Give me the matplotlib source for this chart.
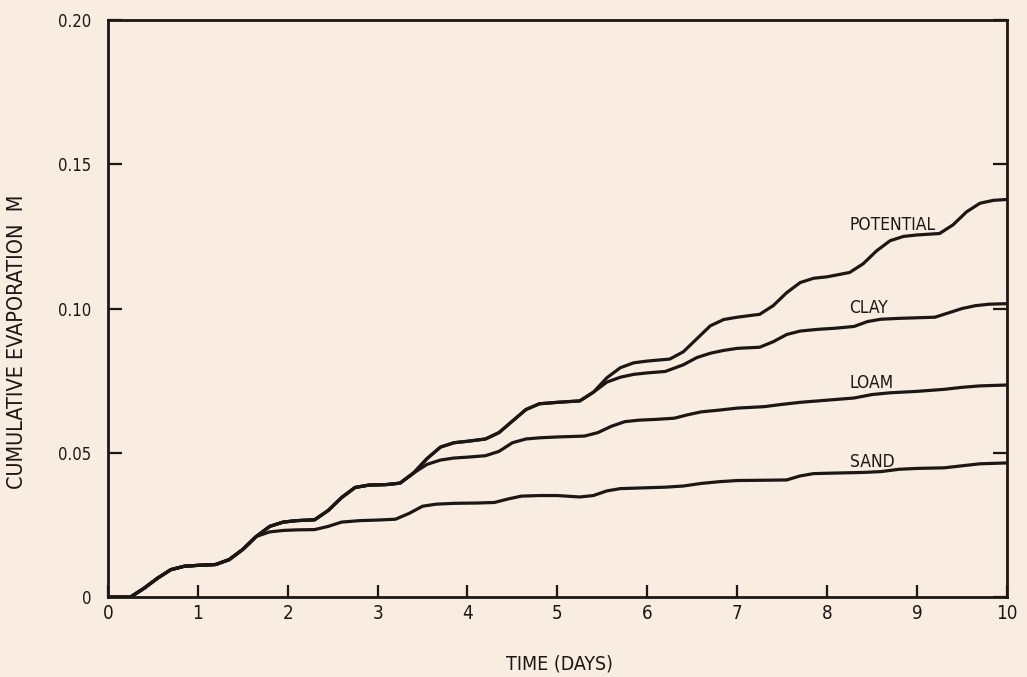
import matplotlib
matplotlib.use('Agg')
import matplotlib.pyplot as plt

# Stage-1 evaporation: all soils follow the potential curve until they split off
common_x = [0, 0.25, 0.4, 0.55, 0.7, 0.85, 1.0, 1.2, 1.35, 1.5, 1.65]
common_y = [0, 0, 0.003, 0.0065, 0.0095, 0.0107, 0.011, 0.0113, 0.013, 0.0165, 0.021]

# Potential (rest of the curve after x=1.65)
pot_x = [1.8, 1.95, 2.1, 2.3, 2.45, 2.6, 2.75, 2.9, 3.1, 3.25, 3.4, 3.55, 3.7, 3.85,
         4.0, 4.2, 4.35, 4.5, 4.65, 4.8, 5.0, 5.25, 5.4, 5.55, 5.7, 5.85, 6.0, 6.25,
         6.4, 6.55, 6.7, 6.85, 7.0, 7.25, 7.4, 7.55, 7.7, 7.85, 8.0, 8.25, 8.4, 8.55,
         8.7, 8.85, 9.0, 9.25, 9.4, 9.55, 9.7, 9.85, 10.0]
pot_y = [0.0245, 0.026, 0.0265, 0.0268, 0.030, 0.0345, 0.038, 0.0388, 0.039, 0.0395,
         0.043, 0.048, 0.052, 0.0535, 0.054, 0.0548, 0.057, 0.061, 0.065, 0.067, 0.0675,
         0.068, 0.071, 0.076, 0.0795, 0.0812, 0.0818, 0.0825, 0.085, 0.0895, 0.094,
         0.0962, 0.097, 0.098, 0.101, 0.1055, 0.109, 0.1105, 0.111, 0.1125, 0.1155,
         0.120, 0.1235, 0.125, 0.1255, 0.126, 0.129, 0.1335, 0.1365, 0.1375, 0.1378]

# Clay leaves the potential curve at x=5.4
clay_x = [5.55, 5.7, 5.85, 6.0, 6.2, 6.4, 6.55, 6.7, 6.85, 7.0, 7.25, 7.4, 7.55, 7.7,
          7.9, 8.1, 8.3, 8.45, 8.6, 8.8, 9.0, 9.2, 9.35, 9.5, 9.65, 9.8, 10.0]
clay_y = [0.0745, 0.0762, 0.0772, 0.0777, 0.0782, 0.0805, 0.083, 0.0845, 0.0855, 0.0862,
          0.0866, 0.0885, 0.091, 0.0922, 0.0928, 0.0932, 0.0938, 0.0955, 0.0963, 0.0966,
          0.0968, 0.097, 0.0985, 0.100, 0.101, 0.1015, 0.1017]

# Loam leaves the potential curve at x=3.4
loam_x = [3.55, 3.7, 3.85, 4.0, 4.2, 4.35, 4.5, 4.65, 4.8, 5.0, 5.3, 5.45, 5.6, 5.75,
          5.9, 6.1, 6.3, 6.45, 6.6, 6.8, 7.0, 7.3, 7.5, 7.7, 7.9, 8.1, 8.3, 8.5, 8.7,
          9.0, 9.3, 9.5, 9.7, 10.0]
loam_y = [0.046, 0.0475, 0.0482, 0.0485, 0.049, 0.0505, 0.0535, 0.0548, 0.0552, 0.0555,
          0.0558, 0.057, 0.0592, 0.0608, 0.0613, 0.0616, 0.062, 0.0632, 0.0642, 0.0648,
          0.0655, 0.066, 0.0668, 0.0675, 0.068, 0.0685, 0.069, 0.0702, 0.0708, 0.0713,
          0.072, 0.0727, 0.0732, 0.0735]

# Sand leaves the potential curve at x=1.65
sand_x = [1.8, 1.95, 2.1, 2.3, 2.45, 2.6, 2.8, 3.0, 3.2, 3.35, 3.5, 3.65, 3.85, 4.1,
          4.3, 4.45, 4.6, 4.8, 5.0, 5.25, 5.4, 5.55, 5.7, 5.9, 6.2, 6.4, 6.6, 6.8, 7.0,
          7.3, 7.55, 7.7, 7.85, 8.1, 8.4, 8.6, 8.8, 9.0, 9.3, 9.5, 9.7, 10.0]
sand_y = [0.0226, 0.0231, 0.0233, 0.0234, 0.0245, 0.026, 0.0265, 0.0267, 0.027, 0.029,
          0.0315, 0.0322, 0.0325, 0.0326, 0.0328, 0.034, 0.035, 0.0352, 0.0352, 0.0347,
          0.0352, 0.0368, 0.0376, 0.0378, 0.0381, 0.0385, 0.0394, 0.040, 0.0404, 0.0405,
          0.0406, 0.042, 0.0428, 0.043, 0.0432, 0.0435, 0.0443, 0.0446, 0.0448, 0.0455,
          0.0462, 0.0465]

labels = ['POTENTIAL', 'CLAY', 'LOAM', 'SAND']
label_y = [0.129, 0.1003, 0.0743, 0.0469]

x_ticks = [0, 1, 2, 3, 4, 5, 6, 7, 8, 9, 10]
y_ticks = [0, 0.05, 0.10, 0.15, 0.20]
y_ticklabels = ['0', '0.05', '0.10', '0.15', '0.20']

paper = '#f9ece1'
ink = '#1c1714'

fig = plt.figure(figsize=(10.27, 6.77), dpi=100, facecolor=paper)
ax = fig.add_axes([0.105, 0.118, 0.8755, 0.8525], facecolor=paper)

# each soil curve = common start (up to its split point) + its own tail
pot_full_x = common_x + pot_x
pot_full_y = common_y + pot_y
n_clay = pot_full_x.index(5.4) + 1
n_loam = pot_full_x.index(3.4) + 1
curves = [
    (pot_full_x, pot_full_y),
    (pot_full_x[:n_clay] + clay_x, pot_full_y[:n_clay] + clay_y),
    (pot_full_x[:n_loam] + loam_x, pot_full_y[:n_loam] + loam_y),
    (common_x + sand_x, common_y + sand_y),
]
for cx, cy in curves:
    ax.plot(cx, cy, color=ink, linewidth=2.3, solid_joinstyle='round',
            solid_capstyle='round')

txt = dict(color=ink, fontstretch='condensed', family='DejaVu Sans')
for lab, ly in zip(labels, label_y):
    ax.text(8.25, ly, lab, ha='left', va='center', fontsize=12.5, **txt)

ax.set_xlim(0, 10)
ax.set_ylim(0, 0.20)
ax.set_xticks(x_ticks)
ax.set_xticklabels([str(t) for t in x_ticks])
ax.set_yticks(y_ticks)
ax.set_yticklabels(y_ticklabels)
ax.tick_params(axis='x', direction='in', length=9, width=1.6, color=ink,
               labelsize=13.5, labelcolor=ink, pad=5)
ax.tick_params(axis='y', direction='in', length=10, width=1.6, color=ink,
               labelsize=12, labelcolor=ink, pad=12, right=True)
for lab in ax.get_xticklabels() + ax.get_yticklabels():
    lab.set_fontstretch('condensed')

for sp in ax.spines.values():
    sp.set_linewidth(2.0)
    sp.set_color(ink)

ax.set_xlabel('TIME (DAYS)', fontsize=14, **txt)
ax.xaxis.set_label_coords(0.502, -0.099)
ax.set_ylabel('CUMULATIVE EVAPORATION  M', fontsize=15.5, **txt)
ax.yaxis.set_label_coords(-0.09, 0.442)

fig.savefig('out.png', dpi=100, facecolor=paper)
